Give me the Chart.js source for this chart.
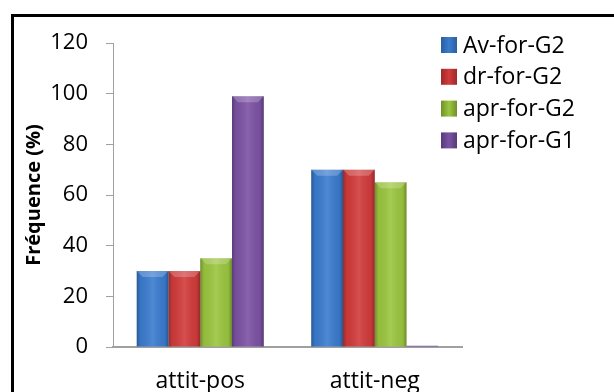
<!DOCTYPE html>
<html>
<head>
<meta charset="utf-8">
<style>
  html, body { margin: 0; padding: 0; background: #fff; }
  #wrap { position: relative; width: 614px; height: 392px; }
</style>
<script src="https://cdn.jsdelivr.net/npm/chart.js@4"></script>
</head>
<body>
<div id="wrap"><canvas id="freqChart" width="614" height="392"></canvas></div>
<script>
const categories = ['attit-pos', 'attit-neg'];
const seriesNames = ['Av-for-G2', 'dr-for-G2', 'apr-for-G2', 'apr-for-G1'];
const avForG2 = [30, 70];
const drForG2 = [30, 70];
const aprForG2 = [35, 65];
const aprForG1 = [99, 0.5];
const yTicks = [0, 20, 40, 60, 80, 100, 120];

const fills = ['#3a7ccf', '#d23b3b', '#9bc63f', '#7c53a4'];
const edges = ['#2a5e9e', '#9e2a2a', '#6f8f2b', '#573a78'];
const font = "'Open Sans', sans-serif";

// black frame around the figure
const framePlugin = {
    id: 'frame',
    beforeDraw(chart) {
        const ctx = chart.ctx;
        ctx.save();
        ctx.fillStyle = '#fff';
        ctx.fillRect(0, 0, chart.width, chart.height);
        ctx.strokeStyle = '#000';
        ctx.lineWidth = 3;
        ctx.strokeRect(12.5, 15.5, 800, 600);
        ctx.restore();
    }
};

// shading on each bar to mimic the bevelled look
const bevelPlugin = {
    id: 'bevel',
    afterDatasetsDraw(chart) {
        const ctx = chart.ctx;
        chart.data.datasets.forEach((ds, i) => {
            const meta = chart.getDatasetMeta(i);
            meta.data.forEach(bar => {
                const left = bar.x - bar.width / 2;
                const top = Math.min(bar.y, bar.base);
                const h = Math.abs(bar.base - bar.y);
                if (h < 1) return;
                const g = ctx.createLinearGradient(left, 0, left + bar.width, 0);
                g.addColorStop(0, 'rgba(0,0,0,0.28)');
                g.addColorStop(0.12, 'rgba(0,0,0,0.05)');
                g.addColorStop(0.5, 'rgba(255,255,255,0.10)');
                g.addColorStop(0.88, 'rgba(0,0,0,0.05)');
                g.addColorStop(1, 'rgba(0,0,0,0.30)');
                ctx.save();
                ctx.fillStyle = g;
                ctx.fillRect(left, top, bar.width, h);
                // lighter cap at the top
                ctx.fillStyle = 'rgba(255,255,255,0.22)';
                ctx.beginPath();
                ctx.moveTo(left, top);
                ctx.lineTo(left + bar.width, top);
                ctx.lineTo(left + bar.width - 6, top + 6);
                ctx.lineTo(left + 6, top + 6);
                ctx.closePath();
                ctx.fill();
                ctx.restore();
            });
        });
    }
};

// legend drawn at the upper right, over the plot region
const legendPlugin = {
    id: 'sideLegend',
    afterDraw(chart) {
        const ctx = chart.ctx;
        ctx.save();
        ctx.font = "23px " + font;
        ctx.textBaseline = 'middle';
        ctx.textAlign = 'left';
        chart.data.datasets.forEach((ds, i) => {
            const cy = 45 + i * 31.8;
            const g = ctx.createLinearGradient(441, 0, 457, 0);
            g.addColorStop(0, edges[i]);
            g.addColorStop(0.5, fills[i]);
            g.addColorStop(1, edges[i]);
            ctx.fillStyle = g;
            ctx.fillRect(441, cy - 8, 16, 16);
            ctx.fillStyle = '#000';
            ctx.fillText(ds.label, 463, cy + 1);
        });
        ctx.restore();
    }
};

const seriesData = [avForG2, drForG2, aprForG2, aprForG1];

new Chart(document.getElementById('freqChart'), {
    type: 'bar',
    data: {
        labels: categories,
        datasets: seriesNames.map((name, i) => ({
            label: name,
            data: seriesData[i],
            backgroundColor: fills[i],
            borderColor: edges[i],
            borderWidth: 0,
            categoryPercentage: 0.728,
            barPercentage: 1
        }))
    },
    options: {
        responsive: false,
        animation: false,
        layout: { padding: { left: 0, right: 152, top: 43, bottom: 0 } },
        plugins: {
            legend: { display: false },
            tooltip: { enabled: false }
        },
        scales: {
            x: {
                afterFit: s => { s.height = 45; },
                grid: { drawOnChartArea: false, drawTicks: false },
                border: { color: '#a0a0a0', width: 2 },
                ticks: {
                    color: '#000',
                    padding: 21,
                    font: { family: font, size: 23 }
                }
            },
            y: {
                min: 0,
                max: 120,
                afterFit: s => { s.width = 113; },
                afterBuildTicks: s => { s.ticks = yTicks.map(v => ({ value: v })); },
                grid: { drawOnChartArea: false, drawTicks: true, tickLength: 7, color: '#a0a0a0' },
                border: { color: '#a0a0a0', width: 1 },
                ticks: {
                    color: '#000',
                    padding: 18,
                    font: { family: font, size: 22 }
                },
                title: {
                    display: true,
                    text: 'Fréquence (%)',
                    color: '#000',
                    padding: { top: 22, bottom: 0 },
                    font: { family: font, size: 20, weight: 'bold' }
                }
            }
        }
    },
    plugins: [framePlugin, bevelPlugin, legendPlugin]
});
</script>
</body>
</html>
